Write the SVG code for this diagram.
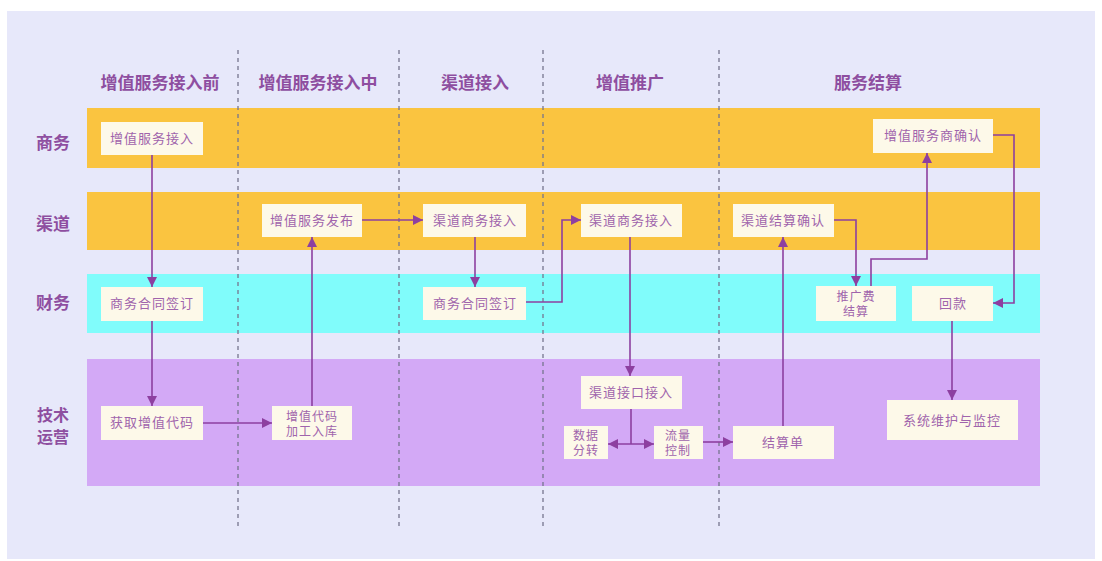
<svg xmlns="http://www.w3.org/2000/svg" width="1102" height="561" viewBox="0 0 1102 561">
<defs>
<style>
.hdr{font-family:"Noto Sans CJK SC","Noto Sans",sans-serif;font-size:17px;font-weight:bold;fill:#8e4ea0;text-anchor:middle}
.row{font-family:"Noto Sans CJK SC","Noto Sans",sans-serif;font-size:17px;font-weight:bold;fill:#8e4ea0;text-anchor:middle}
.row2{font-family:"Noto Sans CJK SC","Noto Sans",sans-serif;font-size:16px;font-weight:bold;fill:#8e4ea0;text-anchor:middle}
.nt{font-family:"Noto Sans CJK SC","Noto Sans",sans-serif;font-size:13px;fill:#a064ac;text-anchor:middle;letter-spacing:1px}
.nt2{font-family:"Noto Sans CJK SC","Noto Sans",sans-serif;font-size:12px;fill:#a064ac;text-anchor:middle;letter-spacing:1px}
.nb{fill:#fdf9e9}
.div{stroke:#76768f;stroke-width:1.3;stroke-dasharray:4,4;fill:none}
.c{stroke:#8d3fa0;stroke-width:1.6;fill:none}
</style>
<marker id="ah" viewBox="0 0 10 10" refX="10" refY="5" markerWidth="10" markerHeight="10" markerUnits="userSpaceOnUse" orient="auto-start-reverse">
<path d="M0,0 L10,5 L0,10 z" fill="#8d3fa0"/>
</marker>
</defs>
<rect x="0" y="0" width="1102" height="561" fill="#ffffff"/>
<rect x="7" y="11" width="1088" height="548" fill="#e7e8fa"/>
<g id="lanes">
<rect x="87" y="108" width="953" height="60" fill="#fac440"/>
<rect x="87" y="192" width="953" height="58" fill="#fac440"/>
<rect x="87" y="274" width="953" height="59" fill="#80fcfb"/>
<rect x="87" y="359" width="953" height="127" fill="#d3a9f6"/>
</g>
<g id="dividers">
<line class="div" x1="238" y1="50" x2="238" y2="527"/>
<line class="div" x1="399" y1="50" x2="399" y2="527"/>
<line class="div" x1="543" y1="50" x2="543" y2="527"/>
<line class="div" x1="719" y1="50" x2="719" y2="527"/>
</g>
<g id="headers">
<text class="hdr" x="160" y="89">增值服务接入前</text>
<text class="hdr" x="318" y="89">增值服务接入中</text>
<text class="hdr" x="475" y="89">渠道接入</text>
<text class="hdr" x="630" y="89">增值推广</text>
<text class="hdr" x="868" y="89">服务结算</text>
</g>
<g id="rowlabels">
<text class="row" x="53" y="149">商务</text>
<text class="row" x="53" y="230">渠道</text>
<text class="row" x="53" y="309">财务</text>
<text class="row2" x="53" y="421">技术</text>
<text class="row2" x="53" y="443">运营</text>
</g>
<g id="n1"><rect class="nb" x="101" y="122" width="102" height="33"/><text class="nt" x="152" y="143">增值服务接入</text></g>
<g id="n2"><rect class="nb" x="262" y="204" width="100" height="33"/><text class="nt" x="312" y="225">增值服务发布</text></g>
<g id="n3"><rect class="nb" x="423" y="204" width="103" height="33"/><text class="nt" x="475" y="225">渠道商务接入</text></g>
<g id="n4"><rect class="nb" x="581" y="204" width="101" height="33"/><text class="nt" x="631" y="225">渠道商务接入</text></g>
<g id="n5"><rect class="nb" x="733" y="204" width="101" height="33"/><text class="nt" x="783" y="225">渠道结算确认</text></g>
<g id="n6"><rect class="nb" x="873" y="119" width="120" height="34"/><text class="nt" x="933" y="140">增值服务商确认</text></g>
<g id="n7"><rect class="nb" x="101" y="287" width="102" height="34"/><text class="nt" x="152" y="308">商务合同签订</text></g>
<g id="n8"><rect class="nb" x="423" y="287" width="103" height="33"/><text class="nt" x="475" y="308">商务合同签订</text></g>
<g id="n9"><rect class="nb" x="816" y="286" width="80" height="35"/><text class="nt2" x="856" y="301">推广费</text><text class="nt2" x="856" y="316">结算</text></g>
<g id="n10"><rect class="nb" x="912" y="286" width="81" height="35"/><text class="nt" x="953" y="308">回款</text></g>
<g id="n11"><rect class="nb" x="101" y="406" width="102" height="34"/><text class="nt" x="152" y="427">获取增值代码</text></g>
<g id="n12"><rect class="nb" x="272" y="406" width="80" height="34"/><text class="nt2" x="312" y="421">增值代码</text><text class="nt2" x="312" y="436">加工入库</text></g>
<g id="n13"><rect class="nb" x="581" y="376" width="101" height="33"/><text class="nt" x="631" y="397">渠道接口接入</text></g>
<g id="n14"><rect class="nb" x="564" y="426" width="44" height="33"/><text class="nt2" x="586" y="440">数据</text><text class="nt2" x="586" y="455">分转</text></g>
<g id="n15"><rect class="nb" x="654" y="426" width="49" height="33"/><text class="nt2" x="678" y="440">流量</text><text class="nt2" x="678" y="455">控制</text></g>
<g id="n16"><rect class="nb" x="733" y="426" width="101" height="33"/><text class="nt" x="783" y="447">结算单</text></g>
<g id="n17"><rect class="nb" x="887" y="400" width="131" height="40"/><text class="nt" x="952" y="425">系统维护与监控</text></g>
<g id="connectors">
<path class="c" marker-end="url(#ah)" d="M152,155 V287"/>
<path class="c" marker-end="url(#ah)" d="M152,321 V406"/>
<path class="c" marker-end="url(#ah)" d="M203,423 H272"/>
<path class="c" marker-end="url(#ah)" d="M312,406 V237"/>
<path class="c" marker-end="url(#ah)" d="M362,220 H423"/>
<path class="c" marker-end="url(#ah)" d="M475,237 V287"/>
<path class="c" marker-end="url(#ah)" d="M526,302 H562 V220 H581"/>
<path class="c" marker-end="url(#ah)" d="M630,237 V376"/>
<path class="c" d="M631,409 V444"/>
<path class="c" marker-start="url(#ah)" marker-end="url(#ah)" d="M608,444 H654"/>
<path class="c" marker-end="url(#ah)" d="M703,442 H733"/>
<path class="c" marker-end="url(#ah)" d="M783,426 V237"/>
<path class="c" marker-end="url(#ah)" d="M834,220 H856 V286"/>
<path class="c" marker-end="url(#ah)" d="M871,286 V259 H927 V153"/>
<path class="c" marker-end="url(#ah)" d="M993,135 H1014 V303 H993"/>
<path class="c" marker-end="url(#ah)" d="M952,321 V400"/>
</g>
</svg>
